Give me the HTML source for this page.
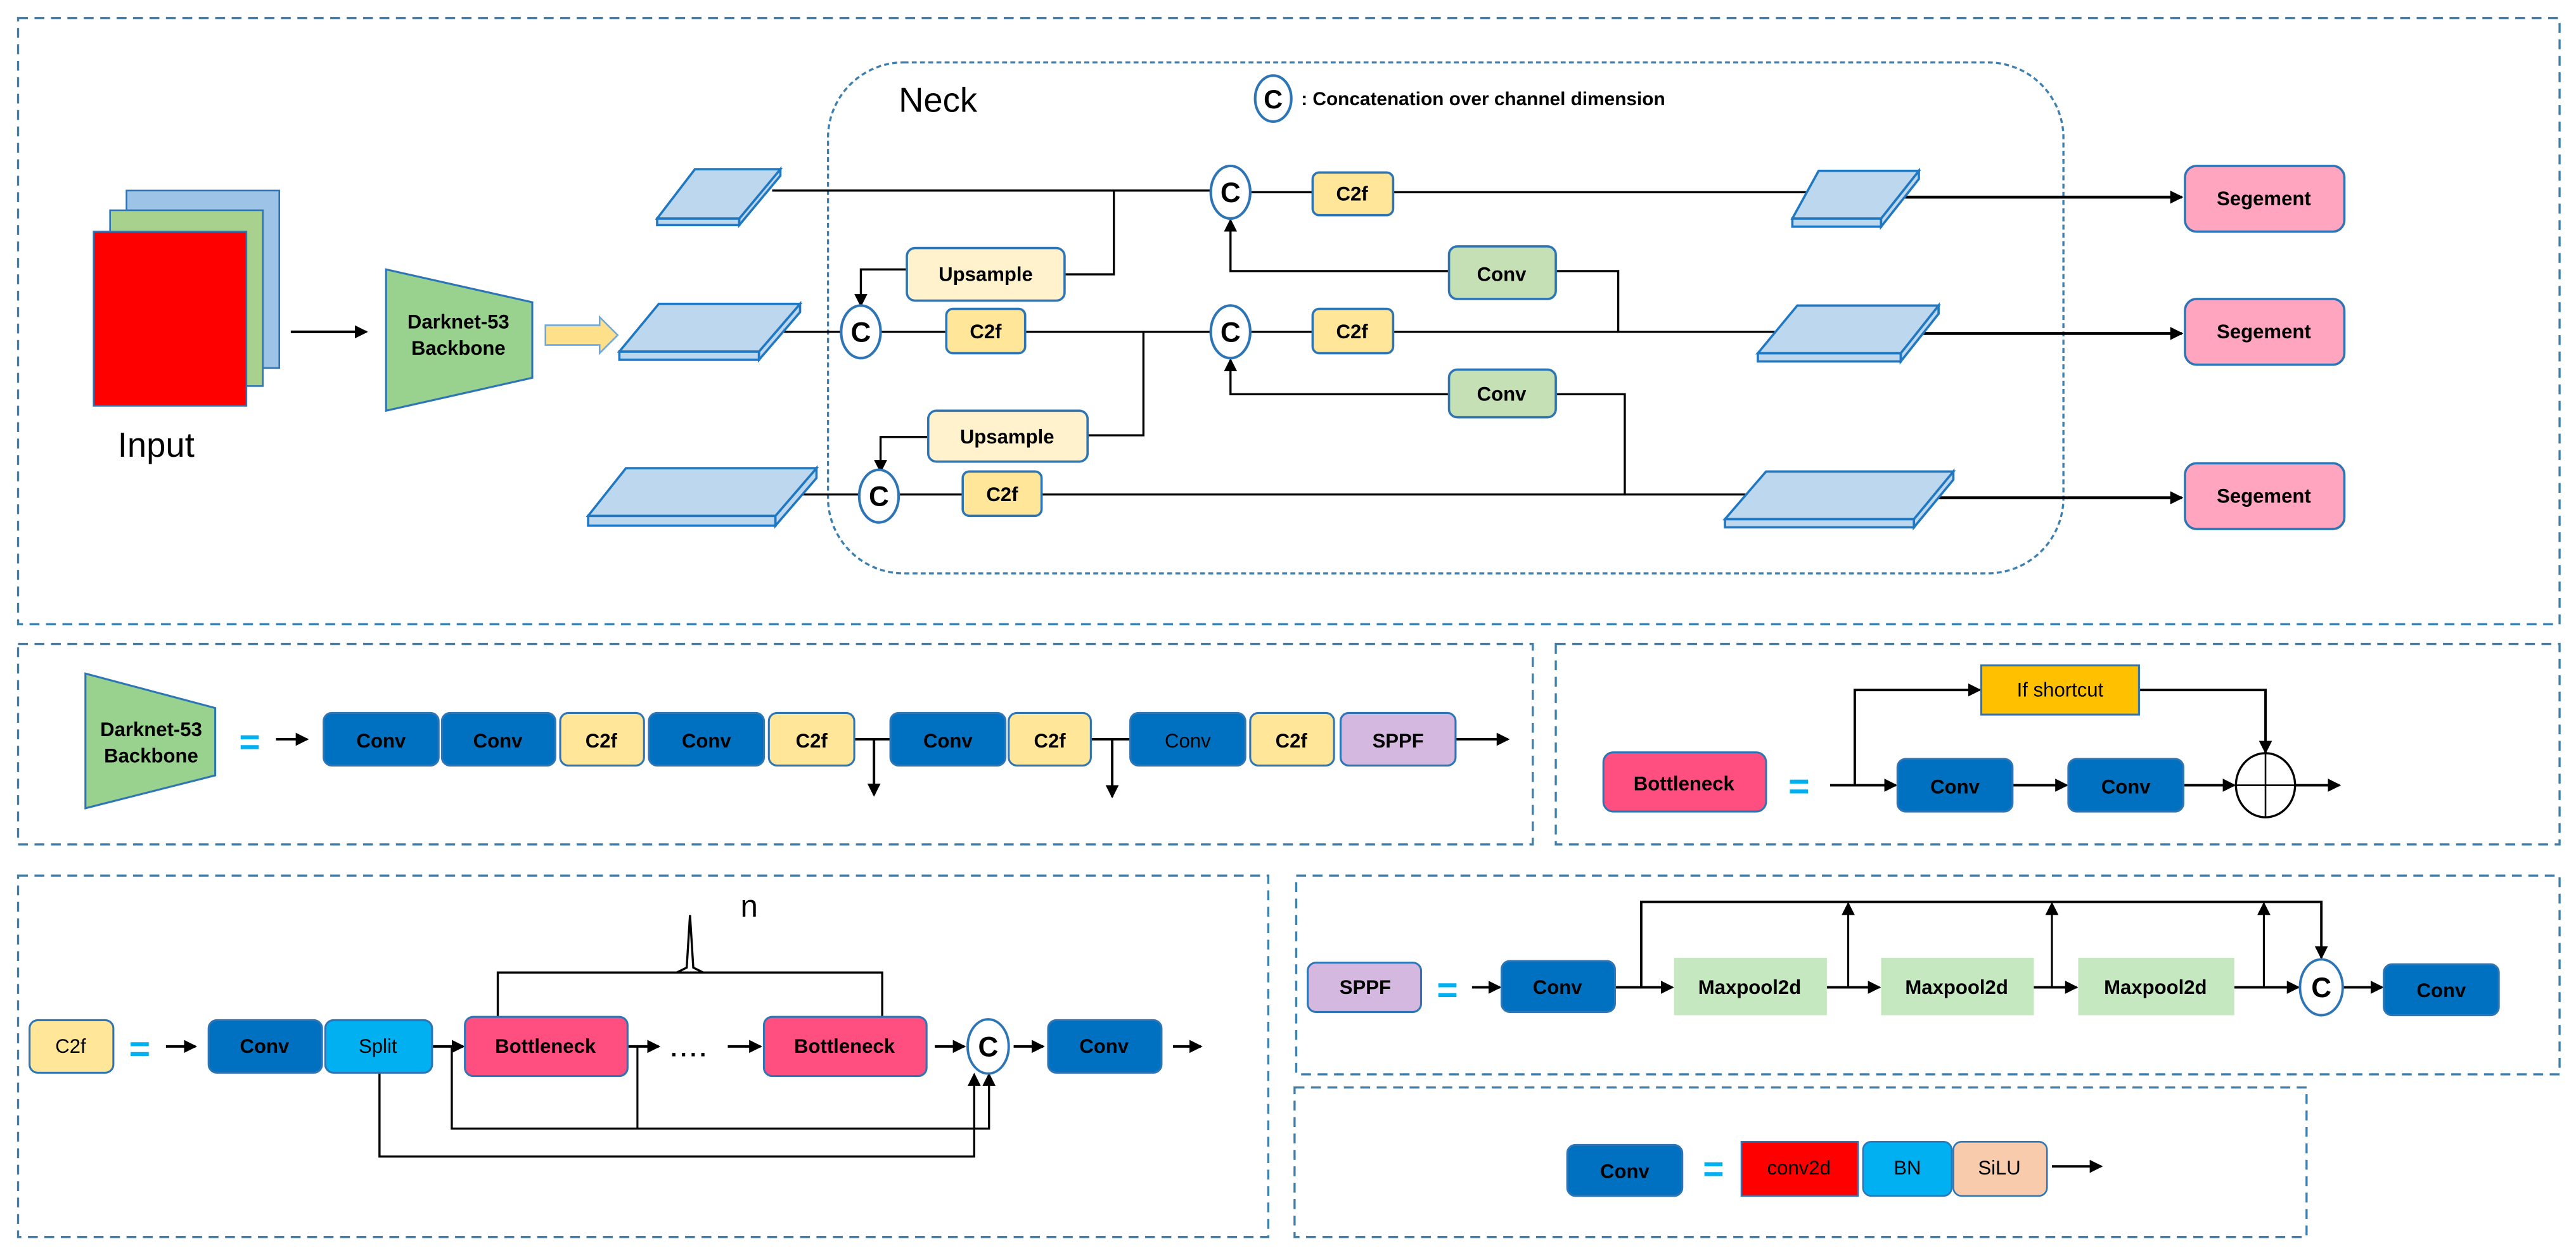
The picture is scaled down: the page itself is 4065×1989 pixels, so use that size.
<!DOCTYPE html>
<html><head><meta charset="utf-8"><style>
html,body{margin:0;padding:0;background:#fff;}
svg{display:block;}
text{font-family:"Liberation Sans",Arial,sans-serif;}
</style></head><body>
<svg width="4065" height="1989" viewBox="0 0 1568 767" preserveAspectRatio="none" xmlns="http://www.w3.org/2000/svg">
<defs>
<marker id="a" markerWidth="8" markerHeight="8" refX="7" refY="4" orient="auto" markerUnits="userSpaceOnUse">
<path d="M0,0 L8,4 L0,8 z" fill="#000"/></marker>
</defs>
<rect width="1568" height="767" fill="#fff"/>
<g fill="none" stroke="#3d7fae" stroke-width="1.3" stroke-dasharray="6,4">
<rect x="11" y="11" width="1547" height="369"/>
<rect x="11" y="392" width="922" height="122"/>
<rect x="947" y="392" width="611" height="122"/>
<rect x="11" y="533" width="761" height="220"/>
<rect x="789" y="533" width="769" height="121"/>
<rect x="788" y="662" width="616" height="91"/>
<rect x="504" y="38" width="752" height="311" rx="46" stroke-dasharray="3,2"/>
</g>

<!-- Input -->
<rect x="77" y="116" width="93" height="108" fill="#9dc3e6" stroke="#2e75b6" stroke-width="1"/>
<rect x="67" y="128" width="93" height="107" fill="#a9d18e" stroke="#2e75b6" stroke-width="1"/>
<rect x="57" y="141" width="93" height="106" fill="#ff0000" stroke="#2e75b6" stroke-width="1"/>
<text x="95" y="278" font-size="21" text-anchor="middle">Input</text>
<line x1="177" y1="202" x2="223" y2="202" stroke="#000" stroke-width="1.6" marker-end="url(#a)"/>
<polygon points="235,164 324,184 324,230 235,250" fill="#99d18f" stroke="#2e75b6" stroke-width="1.2"/>
<text x="279" y="200" font-size="12" font-weight="bold" text-anchor="middle">Darknet-53</text>
<text x="279" y="216" font-size="12" font-weight="bold" text-anchor="middle">Backbone</text>
<polygon points="332,198 365,198 365,193 376,204 365,215 365,210 332,210" fill="#ffe08a" stroke="#6fa8dc" stroke-width="1"/>

<text x="547" y="68" font-size="21">Neck</text>
<ellipse cx="775" cy="60" rx="11" ry="14" fill="#fff" stroke="#2e75b6" stroke-width="1.6"/>
<text x="775" y="66" font-size="16" font-weight="bold" text-anchor="middle">C</text>
<text x="792" y="64" font-size="11.5" font-weight="bold">: Concatenation over channel dimension</text>

<!-- lines neck -->
<g stroke="#000" stroke-width="1.3" fill="none">
<polyline points="470,116 737,116"/>
<polyline points="761,117 1110,117"/>
<line x1="1155" y1="120" x2="1328" y2="120" stroke-width="1.8" marker-end="url(#a)"/>
<polyline points="678,116 678,167 648,167"/>
<polyline points="552,164 524,164 524,186" marker-end="url(#a)"/>
<polyline points="460,202 512,202"/>
<polyline points="536,202 737,202"/>
<polyline points="761,202 1090,202"/>
<line x1="1165" y1="203" x2="1328" y2="203" stroke-width="1.8" marker-end="url(#a)"/>
<polyline points="696,202 696,265 662,265"/>
<polyline points="565,266 536,266 536,287" marker-end="url(#a)"/>
<polyline points="472,301 523,301"/>
<polyline points="547,301 1070,301"/>
<line x1="1175" y1="303" x2="1328" y2="303" stroke-width="1.8" marker-end="url(#a)"/>
<polyline points="882,165 749,165 749,134" marker-end="url(#a)"/>
<polyline points="947,165 985,165 985,202"/>
<polyline points="882,240 749,240 749,219" marker-end="url(#a)"/>
<polyline points="947,240 989,240 989,301"/>
</g>

<!-- feature maps -->
<g fill="#bdd7ee" stroke="#1f78c1" stroke-width="1.4">
<polygon points="400,133 450,133 450,137 400,137"/><polygon points="450,133 475,103 475,107 450,137"/><polygon points="423,103 475,103 450,133 400,133"/>
<polygon points="377,214 462,214 462,219 377,219"/><polygon points="462,214 487,185 487,190 462,219"/><polygon points="401,185 487,185 462,214 377,214"/>
<polygon points="358,314 472,314 472,320 358,320"/><polygon points="472,314 497,285 497,291 472,320"/><polygon points="381,285 497,285 472,314 358,314"/>
<polygon points="1091,133 1145,133 1145,138 1091,138"/><polygon points="1145,133 1168,104 1168,109 1145,138"/><polygon points="1107,104 1168,104 1145,133 1091,133"/>
<polygon points="1070,215 1157,215 1157,220 1070,220"/><polygon points="1157,215 1180,186 1180,191 1157,220"/><polygon points="1094,186 1180,186 1157,215 1070,215"/>
<polygon points="1050,316 1165,316 1165,321 1050,321"/><polygon points="1165,316 1189,287 1189,292 1165,321"/><polygon points="1075,287 1189,287 1165,316 1050,316"/>
</g>

<!-- C circles -->
<g fill="#fff" stroke="#2e75b6" stroke-width="1.6">
<ellipse cx="749" cy="117" rx="12" ry="16"/><ellipse cx="524" cy="202" rx="12" ry="16"/>
<ellipse cx="749" cy="202" rx="12" ry="16"/><ellipse cx="535" cy="302" rx="12" ry="16"/>
</g>
<g font-size="17" font-weight="bold" text-anchor="middle">
<text x="749" y="123">C</text><text x="524" y="208">C</text><text x="749" y="208">C</text><text x="535" y="308">C</text>
</g>

<!-- neck boxes -->
<g stroke="#2e75b6" stroke-width="1.4">
<rect x="799" y="105" width="49" height="26" rx="4" fill="#ffe699"/>
<rect x="576" y="188" width="48" height="27" rx="4" fill="#ffe699"/>
<rect x="799" y="188" width="49" height="27" rx="4" fill="#ffe699"/>
<rect x="586" y="287" width="48" height="27" rx="4" fill="#ffe699"/>
<rect x="552" y="151" width="96" height="32" rx="5" fill="#fff2cc"/>
<rect x="565" y="250" width="97" height="31" rx="5" fill="#fff2cc"/>
<rect x="882" y="150" width="65" height="32" rx="5" fill="#c5e0b4"/>
<rect x="882" y="225" width="65" height="29" rx="5" fill="#c5e0b4"/>
<rect x="1330" y="101" width="97" height="40" rx="7" fill="#ffa5c0"/>
<rect x="1330" y="182" width="97" height="40" rx="7" fill="#ffa5c0"/>
<rect x="1330" y="282" width="97" height="40" rx="7" fill="#ffa5c0"/>
</g>
<g font-size="12" font-weight="bold" text-anchor="middle">
<text x="823" y="122">C2f</text><text x="600" y="206">C2f</text><text x="823" y="206">C2f</text><text x="610" y="305">C2f</text>
<text x="600" y="171">Upsample</text><text x="613" y="270">Upsample</text>
<text x="914" y="171">Conv</text><text x="914" y="244">Conv</text>
<text x="1378" y="125">Segement</text><text x="1378" y="206">Segement</text><text x="1378" y="306">Segement</text>
</g>

<!-- Backbone panel -->
<polygon points="52,410 131,431 131,472 52,492" fill="#99d18f" stroke="#2e75b6" stroke-width="1.2"/>
<text x="92" y="448" font-size="12" font-weight="bold" text-anchor="middle">Darknet-53</text>
<text x="92" y="464" font-size="12" font-weight="bold" text-anchor="middle">Backbone</text>
<text x="152" y="459" font-size="22" font-weight="bold" fill="#00b0f0" text-anchor="middle">=</text>
<g stroke="#000" stroke-width="1.5" fill="none">
<line x1="168" y1="450" x2="187" y2="450" marker-end="url(#a)"/>
<polyline points="520,450 542,450"/><line x1="532" y1="450" x2="532" y2="484" marker-end="url(#a)"/>
<polyline points="664,450 688,450"/><line x1="677" y1="450" x2="677" y2="485" marker-end="url(#a)"/>
<line x1="886" y1="450" x2="918" y2="450" marker-end="url(#a)"/>
</g>
<g stroke="#2e75b6" stroke-width="1.2">
<rect x="197" y="434" width="70" height="32" rx="5" fill="#0070c0"/>
<rect x="269" y="434" width="69" height="32" rx="5" fill="#0070c0"/>
<rect x="341" y="434" width="51" height="32" rx="5" fill="#ffe699"/>
<rect x="395" y="434" width="70" height="32" rx="5" fill="#0070c0"/>
<rect x="468" y="434" width="52" height="32" rx="5" fill="#ffe699"/>
<rect x="542" y="434" width="70" height="32" rx="5" fill="#0070c0"/>
<rect x="614" y="434" width="50" height="32" rx="5" fill="#ffe699"/>
<rect x="688" y="434" width="70" height="32" rx="5" fill="#0070c0"/>
<rect x="761" y="434" width="51" height="32" rx="5" fill="#ffe699"/>
<rect x="816" y="434" width="70" height="32" rx="5" fill="#d5b8e0"/>
</g>
<g font-size="12" font-weight="bold" text-anchor="middle">
<text x="232" y="455">Conv</text><text x="303" y="455">Conv</text><text x="366" y="455">C2f</text>
<text x="430" y="455">Conv</text><text x="494" y="455">C2f</text><text x="577" y="455">Conv</text>
<text x="639" y="455">C2f</text><text x="723" y="455" font-weight="normal">Conv</text><text x="786" y="455">C2f</text>
<text x="851" y="455">SPPF</text>
</g>

<!-- Bottleneck panel -->
<rect x="976" y="458" width="99" height="36" rx="6" fill="#ff4f81" stroke="#2e75b6" stroke-width="1.2"/>
<text x="1025" y="481" font-size="12" font-weight="bold" text-anchor="middle">Bottleneck</text>
<text x="1095" y="486" font-size="22" font-weight="bold" fill="#00b0f0" text-anchor="middle">=</text>
<g stroke="#000" stroke-width="1.5" fill="none">
<line x1="1114" y1="478" x2="1154" y2="478" marker-end="url(#a)"/>
<line x1="1225" y1="478" x2="1258" y2="478" marker-end="url(#a)"/>
<line x1="1329" y1="478" x2="1360" y2="478" marker-end="url(#a)"/>
<line x1="1397" y1="478" x2="1424" y2="478" marker-end="url(#a)"/>
<polyline points="1129,478 1129,420 1205,420" marker-end="url(#a)"/>
<polyline points="1302,420 1379,420 1379,458" marker-end="url(#a)"/>
<ellipse cx="1379" cy="478" rx="18" ry="19.5" stroke-width="1.3"/>
<line x1="1361" y1="478" x2="1397" y2="478" stroke-width="1"/><line x1="1379" y1="458" x2="1379" y2="498" stroke-width="1"/>
</g>
<rect x="1155" y="462" width="70" height="32" rx="5" fill="#0070c0" stroke="#2e75b6" stroke-width="1.2"/>
<rect x="1259" y="462" width="70" height="32" rx="5" fill="#0070c0" stroke="#2e75b6" stroke-width="1.2"/>
<rect x="1206" y="405" width="96" height="30" fill="#ffc000" stroke="#2e75b6" stroke-width="1.2"/>
<g font-size="12" font-weight="bold" text-anchor="middle">
<text x="1190" y="483">Conv</text><text x="1294" y="483">Conv</text>
<text x="1254" y="424" font-weight="normal">If shortcut</text>
</g>

<!-- C2f panel -->
<rect x="18" y="621" width="51" height="32" rx="5" fill="#ffe699" stroke="#2e75b6" stroke-width="1.2"/>
<text x="43" y="641" font-size="12" text-anchor="middle">C2f</text>
<text x="85" y="646" font-size="22" font-weight="bold" fill="#00b0f0" text-anchor="middle">=</text>
<g stroke="#000" stroke-width="1.5" fill="none">
<line x1="101" y1="637" x2="119" y2="637" marker-end="url(#a)"/>
<line x1="263" y1="637" x2="282" y2="637" marker-end="url(#a)"/>
<line x1="382" y1="637" x2="401" y2="637" marker-end="url(#a)"/>
<line x1="443" y1="637" x2="463" y2="637" marker-end="url(#a)"/>
<line x1="569" y1="637" x2="587" y2="637" marker-end="url(#a)"/>
<line x1="617" y1="637" x2="635" y2="637" marker-end="url(#a)"/>
<line x1="714" y1="637" x2="731" y2="637" marker-end="url(#a)"/>
<polyline points="303,619 303,592 537,592 537,619" stroke-width="1.3"/>
<polyline points="412,592 418,589 420,557 422,589 428,592" stroke-width="1.3"/>
<polyline points="275,637 275,687 602,687 602,654" marker-end="url(#a)" stroke-width="1.3"/>
<line x1="388" y1="637" x2="388" y2="687" stroke-width="1.2"/>
<polyline points="231,653 231,704 593,704 593,654" marker-end="url(#a)" stroke-width="1.3"/>
</g>
<text x="456" y="558" font-size="19" text-anchor="middle">n</text>
<text x="420" y="643" font-size="14" font-weight="bold" text-anchor="middle" letter-spacing="2">....</text>
<g stroke="#2e75b6" stroke-width="1.2">
<rect x="127" y="621" width="69" height="32" rx="5" fill="#0070c0"/>
<rect x="198" y="621" width="65" height="32" rx="5" fill="#00b0f0"/>
<rect x="283" y="619" width="99" height="36" rx="5" fill="#ff4f81"/>
<rect x="465" y="619" width="99" height="36" rx="5" fill="#ff4f81"/>
<rect x="638" y="621" width="69" height="32" rx="5" fill="#0070c0"/>
<ellipse cx="601.5" cy="637" rx="12.5" ry="16.5" fill="#fff" stroke-width="1.5"/>
</g>
<g font-size="12" font-weight="bold" text-anchor="middle">
<text x="161" y="641">Conv</text><text x="230" y="641" font-weight="normal">Split</text>
<text x="332" y="641">Bottleneck</text><text x="514" y="641">Bottleneck</text>
<text x="672" y="641">Conv</text><text x="601.5" y="643" font-size="17">C</text>
</g>

<!-- SPPF panel -->
<rect x="796" y="586" width="69" height="30" rx="5" fill="#d5b8e0" stroke="#2e75b6" stroke-width="1.2"/>
<text x="831" y="605" font-size="12" font-weight="bold" text-anchor="middle">SPPF</text>
<text x="881" y="610" font-size="22" font-weight="bold" fill="#00b0f0" text-anchor="middle">=</text>
<g stroke="#000" stroke-width="1.5" fill="none">
<line x1="896" y1="601" x2="913" y2="601" marker-end="url(#a)"/>
<line x1="983" y1="601" x2="1018" y2="601" marker-end="url(#a)"/>
<line x1="1112" y1="601" x2="1144" y2="601" marker-end="url(#a)"/>
<line x1="1238" y1="601" x2="1264" y2="601" marker-end="url(#a)"/>
<line x1="1360" y1="601" x2="1399" y2="601" marker-end="url(#a)"/>
<line x1="1426" y1="601" x2="1450" y2="601" marker-end="url(#a)"/>
<polyline points="999,601 999,549 1413,549 1413,583" marker-end="url(#a)"/>
<line x1="1125" y1="601" x2="1125" y2="550" marker-end="url(#a)" stroke-width="1.2"/>
<line x1="1249" y1="601" x2="1249" y2="550" marker-end="url(#a)" stroke-width="1.2"/>
<line x1="1378" y1="601" x2="1378" y2="550" marker-end="url(#a)" stroke-width="1.2"/>
</g>
<rect x="914" y="585" width="69" height="31" rx="5" fill="#0070c0" stroke="#2e75b6" stroke-width="1.2"/>
<rect x="1019" y="583" width="93" height="35" fill="#c5e8c0"/>
<rect x="1145" y="583" width="93" height="35" fill="#c5e8c0"/>
<rect x="1265" y="583" width="95" height="35" fill="#c5e8c0"/>
<ellipse cx="1413" cy="601" rx="13" ry="17" fill="#fff" stroke="#2e75b6" stroke-width="1.5"/>
<rect x="1451" y="587" width="70" height="31" rx="5" fill="#0070c0" stroke="#2e75b6" stroke-width="1.2"/>
<g font-size="12" font-weight="bold" text-anchor="middle">
<text x="948" y="605">Conv</text><text x="1065" y="605">Maxpool2d</text><text x="1191" y="605">Maxpool2d</text>
<text x="1312" y="605">Maxpool2d</text><text x="1413" y="607" font-size="17">C</text><text x="1486" y="607">Conv</text>
</g>

<!-- Conv panel -->
<rect x="954" y="697" width="70" height="31" rx="5" fill="#0070c0" stroke="#2e75b6" stroke-width="1.2"/>
<text x="989" y="717" font-size="12" font-weight="bold" text-anchor="middle">Conv</text>
<text x="1043" y="719" font-size="22" font-weight="bold" fill="#00b0f0" text-anchor="middle">=</text>
<rect x="1060" y="695" width="71" height="33" fill="#ff0000" stroke="#2e75b6" stroke-width="1"/>
<rect x="1134" y="695" width="54" height="33" rx="5" fill="#00b0f0" stroke="#2e75b6" stroke-width="1"/>
<rect x="1189" y="695" width="57" height="33" rx="5" fill="#f8cbad" stroke="#2e75b6" stroke-width="1"/>
<g font-size="12" text-anchor="middle">
<text x="1095" y="715">conv2d</text><text x="1161" y="715">BN</text><text x="1217" y="715">SiLU</text>
</g>
<line x1="1249" y1="710" x2="1279" y2="710" stroke="#000" stroke-width="1.5" marker-end="url(#a)"/>
</svg>
</body></html>
